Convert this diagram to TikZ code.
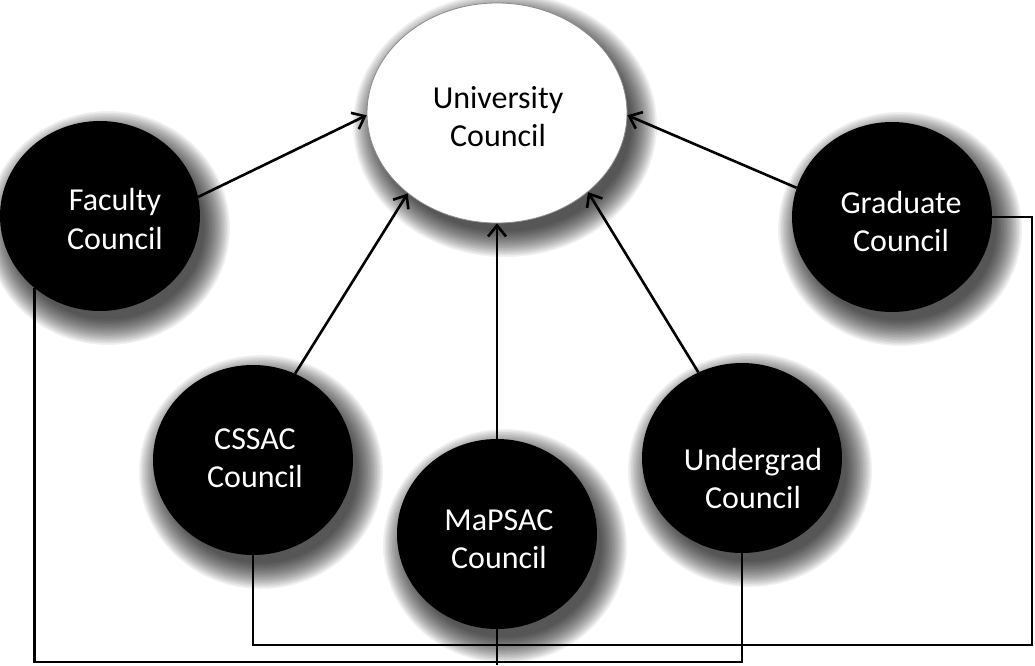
\documentclass[tikz,border=0pt]{standalone}
\usepackage{fontspec}
\setmainfont{Carlito}
\usetikzlibrary{shapes.geometric,arrows.meta}

\tikzset{
  council/.style={ellipse,fill=black,minimum width=200pt,minimum height=190pt,
      inner sep=0pt},
  ctext/.style={text=white,align=center,font=\fontsize{32}{38}\selectfont},
  topcouncil/.style={ellipse,fill=white,draw=black!45,line width=0.8pt,
      minimum width=260pt,minimum height=220pt,inner sep=0pt},
  feed/.style={line width=2.6pt,-{Straight Barb[length=11pt,width=18pt,line width=2.6pt]}},
  link/.style={line width=2.8pt},
  shadowlayer/.style={black,opacity=0.055}
}

\begin{document}
\begin{tikzpicture}[x=1pt,y=-1pt]
  \fill[white] (0,0) rectangle (1035,665);
  \useasboundingbox (0,0) rectangle (1035,665);

  % centres of the councils
  \coordinate (pUC)  at (497,113);
  \coordinate (pFac) at (100,216);
  \coordinate (pGr)  at (892,217);
  \coordinate (pCs)  at (253,460);
  \coordinate (pMa)  at (497,534);
  \coordinate (pUg)  at (742,458);

  % soft drop shadows, built from stacked translucent ellipses
  \foreach \p/\rx/\ry in {pUC/130/110,pFac/100/95,pGr/100/95,pCs/100/95,pMa/100/95,pUg/100/95}{
    \foreach \k in {0,...,17}{
      \fill[shadowlayer] ([shift={(8,12)}]\p)
        ellipse [x radius={(\rx+22-1.5*\k)*1pt}, y radius={(\ry+22-1.5*\k)*1pt}];
    }
  }

  % central body
  \node[topcouncil] (uc) at (pUC) {};
  \node[font=\fontsize{32}{38}\selectfont,align=center] (uct) at (498,117) {University\\Council};

  % member councils
  \node[council,label={[ctext,xshift=15pt,yshift=-3pt]center:Faculty\\Council}] (fac) at (pFac) {};
  \node[council,label={[ctext,xshift=9pt,yshift=-4pt]center:Graduate\\Council}] (gr) at (pGr) {};
  \node[council,label={[ctext,xshift=2pt,yshift=2pt]center:CSSAC\\Council}] (cs) at (pCs) {};
  \node[council,label={[ctext,xshift=2pt,yshift=-5pt]center:MaPSAC\\Council}] (ma) at (pMa) {};
  \node[council,label={[ctext,xshift=11pt,yshift=-20pt]center:Undergrad\\Council}] (ug) at (pUg) {};

  % reporting lines into the university council
  \draw[feed] (fac.11)  -- (uc.181);
  \draw[feed] (cs.64)   -- (uc.222);
  \draw[feed] (ma.north) -- (uc.south);
  \draw[feed] (ug.117)  -- (uc.-41);
  \draw[feed] (gr.163)  -- (uc.-1);

  % lower linking lines
  \coordinate (outer) at (0,662);
  \coordinate (inner) at (1032,645);
  \coordinate (edge)  at (0,665);
  \draw[link] (fac.228) |- (ug.south |- outer) -- (ug.south);
  \draw[link] (gr.east) -| (inner) -| (cs.south);
  \draw[link] (ma.south) -- (ma.south |- edge);
\end{tikzpicture}
\end{document}
